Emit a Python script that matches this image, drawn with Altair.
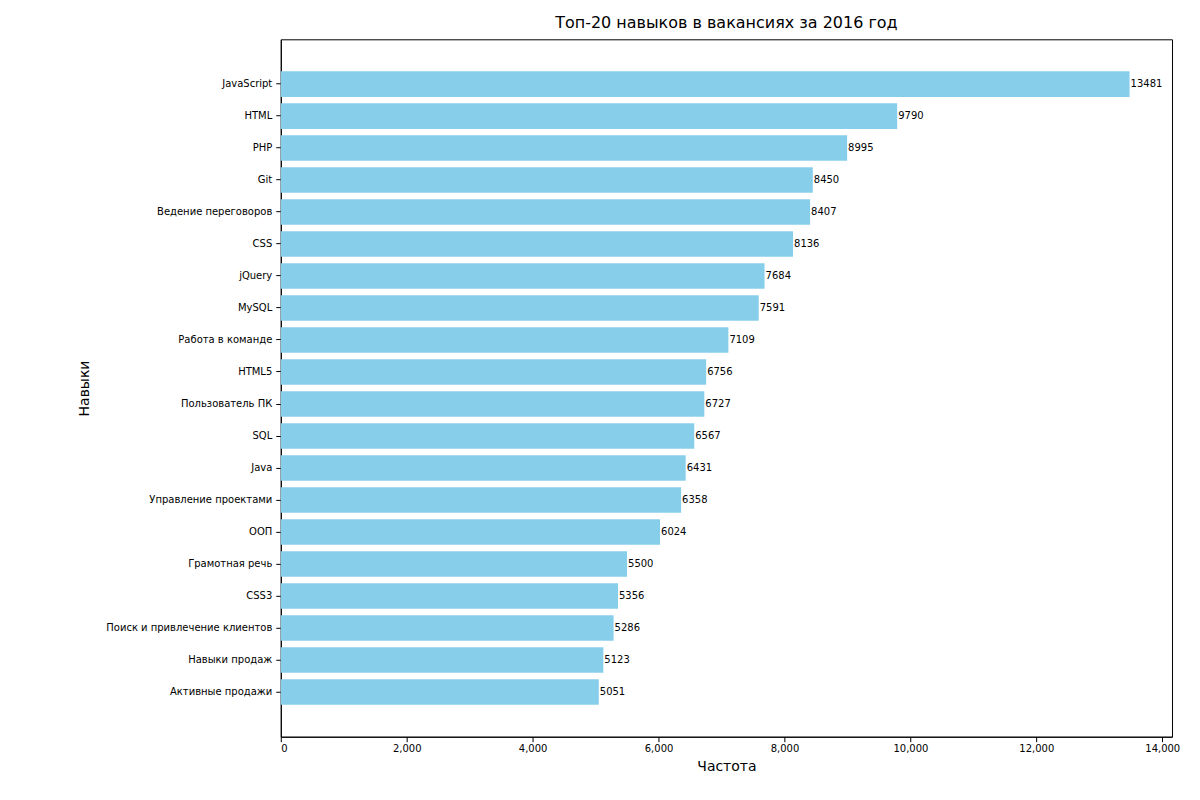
import pandas as pd
import altair as alt

skills = ['JavaScript', 'HTML', 'PHP', 'Git', 'Ведение переговоров', 'CSS', 'jQuery',
          'MySQL', 'Работа в команде', 'HTML5', 'Пользователь ПК', 'SQL', 'Java',
          'Управление проектами', 'ООП', 'Грамотная речь', 'CSS3',
          'Поиск и привлечение клиентов', 'Навыки продаж', 'Активные продажи']
counts = [13481, 9790, 8995, 8450, 8407, 8136, 7684, 7591, 7109, 6756, 6727,
          6567, 6431, 6358, 6024, 5500, 5356, 5286, 5123, 5051]

df = pd.DataFrame({'Навыки': skills, 'Частота': counts})

font = 'DejaVu Sans'

base = alt.Chart(df).encode(
    y=alt.Y('Навыки:N', sort=skills,
            scale=alt.Scale(paddingInner=0.2, paddingOuter=1.0),
            axis=alt.Axis(title='Навыки', titleFontSize=14, titleFontWeight='normal',
                          labelFontSize=10, labelColor='black', titleColor='black',
                          labelPadding=4, titlePadding=14, domainColor='black',
                          tickColor='black')),
    x=alt.X('Частота:Q', scale=alt.Scale(domain=[0, 14155], nice=False),
            axis=alt.Axis(title='Частота', titleFontSize=14, titleFontWeight='normal',
                          labelFontSize=10, labelColor='black', titleColor='black',
                          values=list(range(0, 14001, 2000)), grid=False,
                          domainColor='black', tickColor='black', titlePadding=6))
)

bars = base.mark_bar(color='#87ceeb')
labels = base.mark_text(align='left', baseline='middle', dx=1, fontSize=10,
                        color='black', font=font).encode(text='Частота:Q')

chart = (bars + labels).properties(
    width=892, height=698,
    title=alt.TitleParams('Топ-20 навыков в вакансиях за 2016 год', fontSize=16,
                          fontWeight='normal', color='black', offset=8),
    autosize=alt.AutoSizeParams(type='none'),
    padding={'left': 273, 'top': 31, 'right': 20, 'bottom': 60}
).configure(font=font).configure_view(stroke='black', strokeWidth=1)

chart.save("out.html", embed_options={"renderer": "svg", "actions": False})
